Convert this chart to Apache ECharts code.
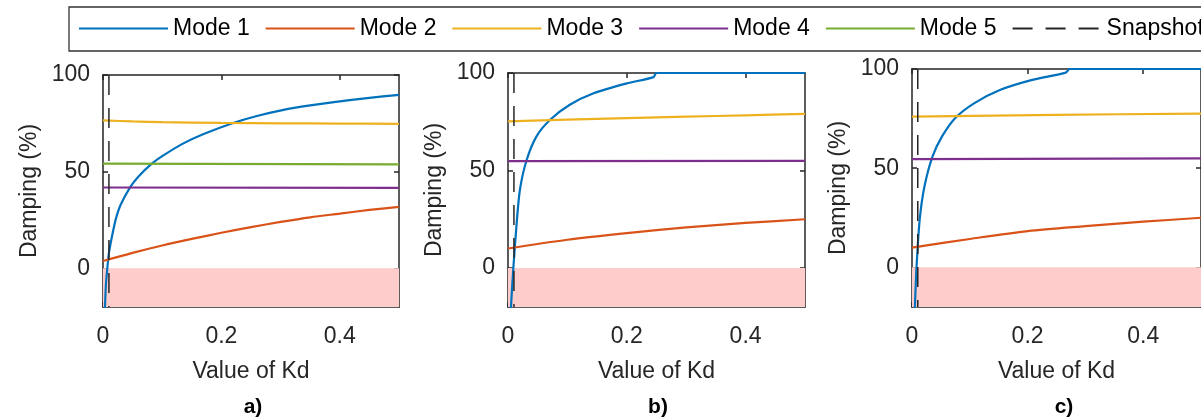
<!DOCTYPE html>
<html>
<head>
<meta charset="utf-8">
<script src="https://cdn.jsdelivr.net/npm/echarts@6/dist/echarts.min.js"></script>
<style>
  html, body { margin: 0; padding: 0; background: #fff; }
  #chart { width: 1201px; height: 418px; }
</style>
</head>
<body>
<div id="chart"></div>
<script>
// ---------- data ----------
const legendNames = ['Mode 1', 'Mode 2', 'Mode 3', 'Mode 4', 'Mode 5', 'Snapshot'];
const kdTicks = [0, 0.2, 0.4];
const dampTicks = [0, 50, 100];
const panelLabels = ['a)', 'b)', 'c)'];
const snapshotKd = 0.01;
const unstableBand = [-20, 0];

// panel a
const mode1A = [[0.003,-28],[0.0034,-20],[0.005,-8],[0.0073,0],[0.01,8],[0.0175,20],[0.023,27],[0.03,33],[0.046,42],[0.06,47.5],[0.082,54],[0.1,58],[0.135,64.5],[0.17,69.5],[0.22,75.2],[0.26,78.8],[0.305,82],[0.35,84.3],[0.39,86],[0.45,88.2],[0.5,89.7]];
const mode2A = [[0,3.8],[0.05,8],[0.1,11.8],[0.15,15.2],[0.2,18.4],[0.25,21.3],[0.3,24],[0.35,26.4],[0.4,28.3],[0.45,30.2],[0.5,31.8]];
const mode3A = [[0,76.5],[0.05,76],[0.1,75.6],[0.2,75.2],[0.3,75],[0.4,74.9],[0.5,74.7]];
const mode4A = [[0,41.8],[0.5,41.6]];
const mode5A = [[0,54.2],[0.5,53.8]];

// panel b
const mode1B = [[0.004,-28],[0.005,-20],[0.009,0],[0.0146,23],[0.02,40],[0.031,55],[0.048,67.5],[0.071,76],[0.104,83.7],[0.144,89.6],[0.2,94.7],[0.245,97.9],[0.25,100],[0.5,100]];
const mode2B = [[0,10],[0.1,14.5],[0.2,17.9],[0.3,20.8],[0.4,23.1],[0.5,25]];
const mode3B = [[0,75.2],[0.1,76.1],[0.2,76.9],[0.3,77.6],[0.4,78.3],[0.5,79]];
const mode4B = [[0,54.8],[0.5,54.9]];

// panel c
const mode1C = [[0.004,-28],[0.005,-20],[0.0078,0],[0.0133,24],[0.0217,41],[0.0356,56],[0.052,66],[0.0745,75.2],[0.108,82.8],[0.152,89.4],[0.208,94.5],[0.266,98.2],[0.273,100],[0.5,100]];
const mode2C = [[0,9.9],[0.1,14.3],[0.2,18.3],[0.3,20.8],[0.4,23],[0.5,25]];
const mode3C = [[0,76],[0.25,76.9],[0.5,77.5]];
const mode4C = [[0,54.6],[0.5,54.9]];

const panels = [
  { 'Mode 1': mode1A, 'Mode 2': mode2A, 'Mode 3': mode3A, 'Mode 4': mode4A, 'Mode 5': mode5A },
  { 'Mode 1': mode1B, 'Mode 2': mode2B, 'Mode 3': mode3B, 'Mode 4': mode4B },
  { 'Mode 1': mode1C, 'Mode 2': mode2C, 'Mode 3': mode3C, 'Mode 4': mode4C }
];

// ---------- styles / layout ----------
const FONT = '"Liberation Sans", Arial, Helvetica, sans-serif';
const colors = { 'Mode 1': '#0072BD', 'Mode 2': '#D95319', 'Mode 3': '#EDB120', 'Mode 4': '#7E2F8E', 'Mode 5': '#77AC30', 'Snapshot': '#262626' };
const grids = [
  { left: 103, top: 75, width: 296, height: 232 },
  { left: 508, top: 73, width: 297, height: 234 },
  { left: 912, top: 69, width: 300, height: 238 }
];
const labelCenters = [253, 658, 1064];
const axisColor = '#262626';

const xAxes = [], yAxes = [], series = [], graphics = [];
grids.forEach((g, i) => {
  xAxes.push({
    type: 'value', gridIndex: i, min: 0, max: 0.5, position: 'bottom',
    name: 'Value of Kd', nameLocation: 'middle', nameGap: 53,
    nameTextStyle: { fontFamily: FONT, fontSize: 23, color: axisColor },
    axisLine: { show: true, onZero: false, lineStyle: { color: axisColor, width: 1.5 } },
    axisTick: { show: true, inside: true, length: 5, customValues: kdTicks, lineStyle: { color: axisColor, width: 1.5 } },
    axisLabel: { show: true, margin: 18, customValues: kdTicks, fontFamily: FONT, fontSize: 23, color: axisColor, formatter: v => String(v) },
    splitLine: { show: false }
  });
  yAxes.push({
    type: 'value', gridIndex: i, min: -20, max: 100, position: 'left',
    name: 'Damping (%)', nameLocation: 'middle', nameGap: 62,
    nameTextStyle: { fontFamily: FONT, fontSize: 23, color: axisColor },
    axisLine: { show: true, onZero: false, lineStyle: { color: '#5a5a5a', width: 2 } },
    axisTick: { show: true, inside: true, length: 5, customValues: dampTicks, lineStyle: { color: axisColor, width: 1.5 } },
    axisLabel: { show: true, margin: 13, customValues: dampTicks, fontFamily: FONT, fontSize: 23, color: axisColor },
    splitLine: { show: false }
  });
});
grids.forEach((g, i) => {
  xAxes.push({
    type: 'value', gridIndex: i, min: 0, max: 0.5, position: 'top',
    axisLine: { show: true, onZero: false, lineStyle: { color: axisColor, width: 1.5 } },
    axisTick: { show: true, inside: true, length: 5, customValues: kdTicks, lineStyle: { color: axisColor, width: 1.5 } },
    axisLabel: { show: false },
    splitLine: { show: false }
  });
  yAxes.push({
    type: 'value', gridIndex: i, min: -20, max: 100, position: 'right',
    axisLine: { show: true, onZero: false, lineStyle: { color: axisColor, width: 1.5 } },
    axisTick: { show: true, inside: true, length: 5, customValues: dampTicks, lineStyle: { color: axisColor, width: 1.5 } },
    axisLabel: { show: false },
    splitLine: { show: false }
  });
});

grids.forEach((g, i) => {
  series.push({
    type: 'line', name: '_band' + i, xAxisIndex: i, yAxisIndex: i, data: [],
    silent: true,
    markArea: {
      silent: true,
      itemStyle: { color: '#FFCCCC' },
      data: [[{ xAxis: 0, yAxis: unstableBand[0] }, { xAxis: 0.5, yAxis: unstableBand[1] }]]
    }
  });
  Object.keys(panels[i]).forEach(name => {
    series.push({
      type: 'line', name: name, xAxisIndex: i, yAxisIndex: i,
      data: panels[i][name], showSymbol: false, symbol: 'none',
      smooth: name === 'Mode 1' ? 0.25 : 0.3, clip: true,
      lineStyle: { color: colors[name], width: 2.2 }, itemStyle: { color: colors[name] }
    });
  });
  series.push({
    type: 'line', name: 'Snapshot', xAxisIndex: i, yAxisIndex: i,
    data: [[snapshotKd, 100], [snapshotKd, -20]], showSymbol: false, symbol: 'none',
    lineStyle: { color: colors['Snapshot'], width: 1.5, type: [20, 13] }, itemStyle: { color: colors['Snapshot'] }
  });
  graphics.push({
    type: 'text', x: labelCenters[i], y: 407,
    style: { text: panelLabels[i], font: 'bold 21px ' + FONT, fill: '#000', align: 'center', verticalAlign: 'middle' }
  });
});

const option = {
  animation: false,
  backgroundColor: '#fff',
  grid: grids.map(g => Object.assign({ containLabel: false }, g)),
  xAxis: xAxes,
  yAxis: yAxes,
  legend: {
    data: legendNames,
    left: 69, top: 7, width: 1500,
    orient: 'horizontal',
    padding: [10, 300, 11, 9],
    itemGap: 15, itemWidth: 89, itemHeight: 14,
    borderColor: '#333', borderWidth: 1.3,
    selectedMode: false,
    itemStyle: { color: 'rgba(0,0,0,0)', borderWidth: 0, opacity: 0 },
    textStyle: { fontFamily: FONT, fontSize: 23, color: '#000', lineHeight: 23 }
  },
  graphic: graphics,
  series: series
};

const chart = echarts.init(document.getElementById('chart'), null, { renderer: 'canvas' });
chart.setOption(option);
</script>
</body>
</html>
